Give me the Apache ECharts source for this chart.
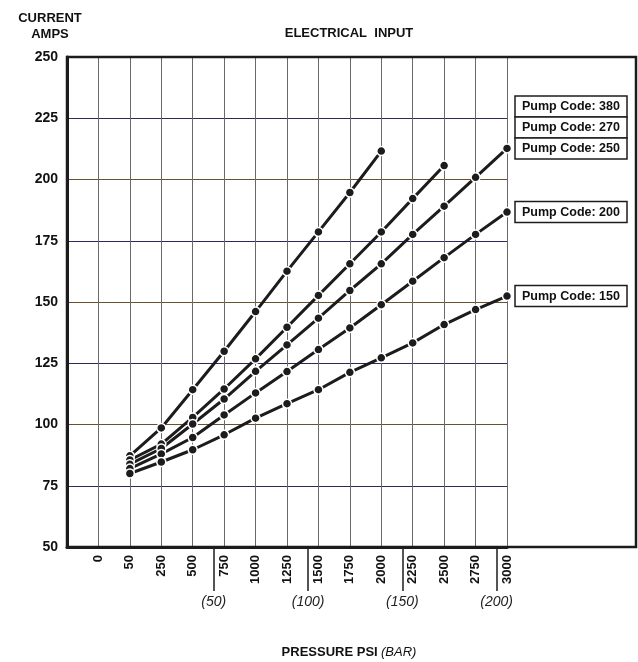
<!DOCTYPE html>
<html>
<head>
<meta charset="utf-8">
<title>Electrical Input</title>
<script src="https://cdn.jsdelivr.net/npm/echarts@6/dist/echarts.min.js"></script>
</head>
<body style="margin:0;background:#fff;">
<div id="main" style="width:638px;height:662px;"></div>
<script type="text/javascript">
// x axis is positional: index i sits at psiLabels[i]
var psiLabels = ['0', '50', '250', '500', '750', '1000', '1250', '1500', '1750', '2000', '2250', '2500', '2750', '3000'];
var barTicks = [3.67, 6.67, 9.67, 12.67];
var barLabels = ['(50)', '(100)', '(150)', '(200)'];
var pumpCodes = ['380', '270', '250', '200', '150'];
// current in amps, every series starts at 50 psi
var amps380 = [87.2, 98.6, 114.2, 129.9, 146.1, 162.6, 178.6, 194.7, 211.6];
var amps270 = [85.5, 92.0, 102.9, 114.5, 126.8, 139.7, 152.7, 165.6, 178.6, 192.2, 205.7];
var amps250 = [83.8, 90.2, 100.2, 110.4, 121.7, 132.5, 143.4, 154.7, 165.6, 177.6, 189.1, 200.9, 212.7];
var amps200 = [82.0, 88.0, 94.7, 103.9, 112.9, 121.6, 130.6, 139.4, 148.9, 158.5, 168.1, 177.6, 186.7];
var amps150 = [80.0, 84.7, 89.7, 95.8, 102.6, 108.5, 114.2, 121.3, 127.2, 133.3, 140.8, 146.9, 152.4];

var allAmps = [amps380, amps270, amps250, amps200, amps150];
var FONT = '"Liberation Sans", Arial, sans-serif';
var INK = '#1c1c1c';

var myChart = echarts.init(document.getElementById('main'));

function toPoints(vals) {
    return vals.map(function (v, i) { return [i + 1, v]; });
}

var series = allAmps.map(function (vals, k) {
    return {
        name: 'Pump Code: ' + pumpCodes[k],
        type: 'line',
        data: toPoints(vals),
        symbol: 'circle',
        symbolSize: 9,
        lineStyle: { color: INK, width: 3 },
        itemStyle: { color: INK, borderColor: '#fff', borderWidth: 1.5 },
        z: 5
    };
});

option = {
    animation: false,
    backgroundColor: '#fff',
    grid: { left: 67, right: 131, top: 57, bottom: 115 },
    xAxis: [{
        type: 'value',
        min: -1,
        max: 13,
        interval: 1,
        axisLine: { show: true, onZero: false, lineStyle: { color: INK, width: 3 } },
        axisTick: { show: false },
        splitLine: { show: true, lineStyle: { color: '#6a6a6a', width: 1 } },
        axisLabel: {
            rotate: 90,
            margin: 8,
            color: '#111',
            fontFamily: FONT,
            fontWeight: 'bold',
            fontSize: 13,
            formatter: function (v) { return v >= 0 ? psiLabels[v] : ''; }
        }
    }, {
        type: 'value',
        min: -1,
        max: 13,
        position: 'bottom',
        axisLine: { show: false, onZero: false },
        splitLine: { show: false },
        axisTick: {
            show: true,
            customValues: barTicks,
            length: 44,
            lineStyle: { color: INK, width: 1.5 }
        },
        axisLabel: {
            customValues: barTicks,
            margin: 48,
            color: '#222',
            fontFamily: FONT,
            fontStyle: 'italic',
            fontSize: 14,
            formatter: function (v) {
                var i = barTicks.indexOf(v);
                return i >= 0 ? barLabels[i] : '';
            }
        }
    }],
    yAxis: {
        type: 'value',
        min: 50,
        max: 250,
        interval: 25,
        axisLine: { show: true, onZero: false, lineStyle: { color: INK, width: 3 } },
        axisTick: { show: false },
        splitLine: { show: true, lineStyle: { color: ['#6b5030', '#2a2a5a'], width: 1 } },
        axisLabel: {
            margin: 9,
            color: '#111',
            fontFamily: FONT,
            fontWeight: 'bold',
            fontSize: 14
        }
    },
    series: series,
    graphic: [
        { type: 'rect', shape: { x: 67, y: 57, width: 569, height: 490 },
          style: { fill: 'none', stroke: INK, lineWidth: 2.5 }, z: 10 },
        { type: 'text', x: 50, y: 10,
          style: { text: 'CURRENT\nAMPS', align: 'center', fill: '#111',
                   font: 'bold 13px ' + FONT, lineHeight: 16 } },
        { type: 'text', x: 349, y: 33,
          style: { text: 'ELECTRICAL  INPUT', align: 'center', verticalAlign: 'middle', fill: '#111',
                   font: 'bold 13px ' + FONT } },
        { type: 'text', x: 349, y: 652,
          style: {
              text: '{b|PRESSURE PSI} {i|(BAR)}', align: 'center', verticalAlign: 'middle',
              rich: {
                  b: { fontFamily: FONT, fontWeight: 'bold', fontSize: 13, fill: '#111' },
                  i: { fontFamily: FONT, fontStyle: 'italic', fontSize: 13, fill: '#111' }
              }
          } }
    ]
};

myChart.setOption(option);

// pump code boxes: 250/200/150 sit at their line ends, 270 and 380 stack above 250
function endY(vals) {
    return myChart.convertToPixel({ gridIndex: 0 }, [vals.length, vals[vals.length - 1]])[1];
}
var y250 = endY(amps250);
var boxY = [y250 - 42, y250 - 21, y250, endY(amps200), endY(amps150)];
var boxes = pumpCodes.map(function (code, k) {
    return {
        type: 'group',
        x: 515,
        y: boxY[k] - 10.5,
        z: 20,
        children: [
            { type: 'rect', shape: { x: 0, y: 0, width: 112, height: 21 },
              style: { fill: '#fff', stroke: INK, lineWidth: 1.5 } },
            { type: 'text', x: 56, y: 11,
              style: { text: 'Pump Code: ' + code, align: 'center', verticalAlign: 'middle',
                       fill: '#111', font: 'bold 12.5px ' + FONT } }
        ]
    };
});
myChart.setOption({ graphic: option.graphic.concat(boxes) });
</script>
</body>
</html>
